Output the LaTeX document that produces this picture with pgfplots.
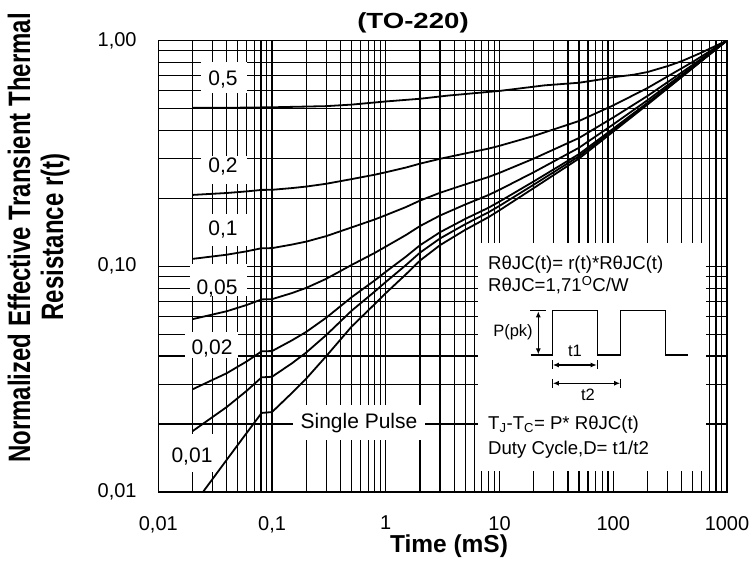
\documentclass[border=0pt]{standalone}
\usepackage{pgfplots}
\pgfplotsset{compat=1.18}
\usepackage{fontspec}
\setmainfont{Liberation Sans}
\usepackage{graphicx}
\usetikzlibrary{arrows.meta}

\begin{document}
\begin{tikzpicture}
\useasboundingbox (0,0) rectangle (753pt,567pt);
\begin{axis}[
  at={(158.3pt,75pt)}, anchor=south west,
  width=568.7pt, height=451.5pt, scale only axis,
  xmode=log, ymode=log,
  xmin=0.01, xmax=1000, ymin=0.01, ymax=1,
  xtick={0.01,0.1,1,10,100,1000},
  xticklabels={{0,01},{0,1},{1},{10},{100},{1000}},
  ytick={0.01,0.1,1},
  yticklabels={{0,01},{0,10},{1,00}},
  minor xtick={0.02,0.03,0.04,0.05,0.06,0.07,0.08,0.09,0.2,0.3,0.4,0.5,0.6,0.7,0.8,0.9,2,3,4,5,6,7,8,9,20,30,40,50,60,70,80,90,200,300,400,500,600,700,800,900},
  minor ytick={0.02,0.03,0.04,0.05,0.06,0.07,0.08,0.09,0.2,0.3,0.4,0.5,0.6,0.7,0.8,0.9},
  grid=both,
  major grid style={black, line width=1.2pt},
  minor grid style={black, line width=1.2pt},
  major tick length=0pt, minor tick length=0pt,
  axis line style={black, line width=1.4pt},
  ticklabel style={font=\fontsize{20}{24}\selectfont, inner sep=0pt},
  yticklabel style={anchor=east, xshift=-21.5pt},
  xticklabel style={anchor=north, yshift=-24pt},
  crv/.style={black, solid, line width=1.8pt, line join=round, mark=none},
]
% white gaps in the grid behind labels and inset
\fill[white] (rel axis cs:0.0751,0.9524) rectangle (rel axis cs:0.1560,0.8837);
\fill[white] (rel axis cs:0.0751,0.7442) rectangle (rel axis cs:0.1560,0.6822);
\fill[white] (rel axis cs:0.0751,0.6157) rectangle (rel axis cs:0.1560,0.5449);
\fill[white] (rel axis cs:0.0557,0.5050) rectangle (rel axis cs:0.1560,0.4341);
\fill[white] (rel axis cs:0.0469,0.3544) rectangle (rel axis cs:0.1401,0.2968);
\fill[white] (rel axis cs:0.0135,0.1285) rectangle (rel axis cs:0.0997,0.0443);
\fill[white] (rel axis cs:0.2369,0.1927) rectangle (rel axis cs:0.4690,0.1152);
\fill[white] (rel axis cs:0.5622,0.5515) rectangle (rel axis cs:0.9631,0.0465);

% D = 0.5
\addplot[crv] coordinates {(0.02,0.503) (0.05,0.504) (0.1,0.506) (0.3,0.512) (0.5,0.520) (1,0.537) (2,0.552) (3.5,0.570) (10,0.598) (25,0.633) (50,0.650) (77,0.672) (100,0.688) (150,0.705) (200,0.725) (300,0.770) (400,0.810) (600,0.885) (1000,1.0)};
% D = 0.2
\addplot[crv] coordinates {(0.02,0.2070) (0.04,0.2111) (0.06,0.2146) (0.081,0.2179) (0.1,0.2181) (0.15,0.2220) (0.2,0.2254) (0.3,0.2320) (0.5,0.2432) (0.8,0.2544) (1,0.2608) (1.5,0.2736) (2,0.2848) (3,0.2992) (5,0.3160) (8,0.3320) (10,0.3416) (20,0.3776) (50,0.440) (100,0.516) (200,0.616) (500,0.804) (1000,1.0)};
% D = 0.1
\addplot[crv] coordinates {(0.02,0.1078) (0.04,0.1125) (0.06,0.1165) (0.081,0.1202) (0.1,0.1203) (0.15,0.1248) (0.2,0.1286) (0.3,0.1360) (0.5,0.1486) (0.8,0.1612) (1,0.1684) (1.5,0.1828) (2,0.1954) (3,0.2116) (5,0.2305) (8,0.2485) (10,0.2593) (20,0.2998) (50,0.370) (100,0.456) (200,0.568) (500,0.780) (1000,1.0)};
% D = 0.05
\addplot[crv] coordinates {(0.02,0.0583) (0.04,0.0632) (0.06,0.0674) (0.081,0.0713) (0.1,0.0715) (0.15,0.0761) (0.2,0.0802) (0.3,0.0880) (0.5,0.1013) (0.8,0.1146) (1,0.1222) (1.5,0.1374) (2,0.1507) (3,0.1678) (5,0.1878) (8,0.2068) (10,0.2182) (20,0.2609) (50,0.335) (100,0.425) (200,0.544) (500,0.767) (1000,1.0)};
% D = 0.02
\addplot[crv] coordinates {(0.02,0.0285) (0.04,0.0336) (0.06,0.0379) (0.081,0.0420) (0.1,0.0421) (0.15,0.0470) (0.2,0.0512) (0.3,0.0592) (0.5,0.0729) (0.8,0.0866) (1,0.0945) (1.5,0.1102) (2,0.1239) (3,0.1415) (5,0.1621) (8,0.1817) (10,0.1935) (20,0.2376) (50,0.314) (100,0.407) (200,0.530) (500,0.760) (1000,1.0)};
% D = 0.01
\addplot[crv] coordinates {(0.02,0.0186) (0.04,0.0238) (0.06,0.0281) (0.081,0.0322) (0.1,0.0324) (0.15,0.0372) (0.2,0.0415) (0.3,0.0496) (0.5,0.0635) (0.8,0.0773) (1,0.0852) (1.5,0.1011) (2,0.1149) (3,0.1328) (5,0.1536) (8,0.1734) (10,0.1852) (20,0.2298) (50,0.307) (100,0.401) (200,0.525) (500,0.757) (1000,1.0)};
% Single pulse
\addplot[crv] coordinates {(0.0247,0.0100) (0.04,0.0139) (0.06,0.0183) (0.081,0.0224) (0.1,0.0226) (0.15,0.0275) (0.2,0.0318) (0.3,0.0400) (0.5,0.0540) (0.8,0.0680) (1,0.0760) (1.5,0.0920) (2,0.1060) (3,0.1240) (5,0.1450) (8,0.1650) (10,0.1770) (20,0.2220) (50,0.3000) (100,0.3950) (200,0.5200) (500,0.7550) (1000,1.0)};
\end{axis}

\begin{scope}[yshift=567pt, x=1pt, y=-1pt]
% title and axis labels
\node[font=\bfseries\fontsize{21.9}{26}\selectfont] at (413,23) {\scalebox{1.26}[1]{(TO-220)}};
\node[font=\bfseries\fontsize{24.5}{29}\selectfont] at (449,546) {Time (mS)};
\node[rotate=90, font=\bfseries\fontsize{24}{28}\selectfont] at (19,238) {\scalebox{1}[1.29]{Normalized Effective Transient Thermal}};
\node[rotate=90, font=\bfseries\fontsize{24}{28}\selectfont] at (55,237) {\scalebox{1}[1.29]{Resistance r(t)}};
% curve labels
\begin{scope}[every node/.style={font=\fontsize{21}{25}\selectfont, inner sep=0pt}]
\node at (223,80) {0,5};
\node at (223,167) {0,2};
\node at (223,230) {0,1};
\node at (217,288.5) {0,05};
\node at (212,348.5) {0,02};
\node at (192,456.5) {0,01};
\node at (359,423) {Single Pulse};
\end{scope}
% inset
\begin{scope}[every node/.style={font=\fontsize{18.6}{22}\selectfont, inner sep=0pt, anchor=west}]
\node at (488,265) {RθJC(t)= r(t)*RθJC(t)};
\node at (488,285) {RθJC=1,71\textsuperscript{O}C/W};
\node at (488,425) {T\textsubscript{J}-T\textsubscript{C}= P* RθJC(t)};
\node at (488,450) {Duty Cycle,D= t1/t2};
\end{scope}
\begin{scope}[every node/.style={font=\fontsize{16.5}{20}\selectfont, inner sep=0pt}]
\node at (513,332.7) {P(pk)};
\node at (575,351) {t1};
\node at (588,395) {t2};
\end{scope}
\draw[line width=1.2pt] (530.7,355) -- (552.3,355) -- (552.3,310.7) -- (597.3,310.7) -- (597.3,355) -- (620.7,355) -- (620.7,310.7) -- (665.7,310.7) -- (665.7,355) -- (688.3,355);
\draw[line width=1.1pt] (530,310.7) -- (546,310.7);
\draw[line width=1.1pt, {Latex[length=6pt,width=5pt]}-{Latex[length=6pt,width=5pt]}] (538.3,311.3) -- (538.3,354.4);
\draw[line width=1.1pt, {Latex[length=6pt,width=5pt]}-{Latex[length=6pt,width=5pt]}] (552.9,365) -- (596.7,365);
\draw[line width=1.1pt] (552.3,360.5) -- (552.3,369.5) (597.3,360.5) -- (597.3,369.5);
\draw[line width=1.1pt, {Latex[length=6pt,width=5pt]}-{Latex[length=6pt,width=5pt]}] (552.9,383.3) -- (620.1,383.3);
\draw[line width=1.1pt] (552.3,378.8) -- (552.3,387.8) (620.7,378.8) -- (620.7,387.8);
\end{scope}
\end{tikzpicture}
\end{document}
